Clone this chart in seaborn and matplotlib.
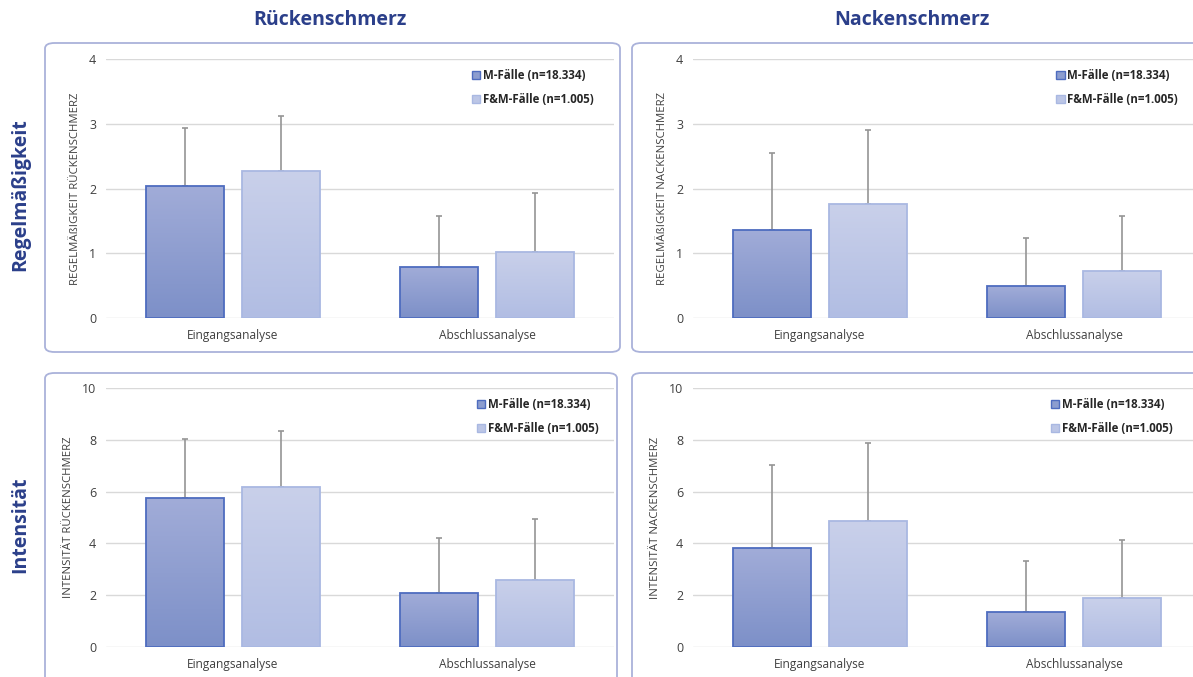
import numpy as np
import pandas as pd
import matplotlib
matplotlib.use('Agg')
import matplotlib.pyplot as plt
from matplotlib.patches import FancyBboxPatch, Patch
from matplotlib.colors import LinearSegmentedColormap
import seaborn as sns

# data
phases = ["Eingangsanalyse", "Abschlussanalyse"]
groups = ["M-Fälle (n=18.334)", "F&M-Fälle (n=1.005)"]
col_titles = ["Rückenschmerz", "Nackenschmerz"]
row_titles = ["Regelmäßigkeit", "Intensität"]
ylabels = ["REGELMÄßIGKEIT RÜCKENSCHMERZ", "REGELMÄßIGKEIT NACKENSCHMERZ",
           "INTENSITÄT RÜCKENSCHMERZ", "INTENSITÄT NACKENSCHMERZ"]

# means per panel: [M Eingang, M Abschluss], [F&M Eingang, F&M Abschluss]
reg_ruecken_m = [2.04, 0.79]
reg_ruecken_fm = [2.27, 1.02]
reg_nacken_m = [1.36, 0.49]
reg_nacken_fm = [1.76, 0.73]
int_ruecken_m = [5.75, 2.09]
int_ruecken_fm = [6.18, 2.59]
int_nacken_m = [3.82, 1.34]
int_nacken_fm = [4.86, 1.89]

# upper end of error bars
reg_ruecken_m_top = [2.93, 1.58]
reg_ruecken_fm_top = [3.12, 1.93]
reg_nacken_m_top = [2.55, 1.24]
reg_nacken_fm_top = [2.90, 1.58]
int_ruecken_m_top = [8.03, 4.20]
int_ruecken_fm_top = [8.34, 4.94]
int_nacken_m_top = [7.03, 3.32]
int_nacken_fm_top = [7.88, 4.13]

panels = [
    (reg_ruecken_m, reg_ruecken_fm, reg_ruecken_m_top, reg_ruecken_fm_top, 4, 1),
    (reg_nacken_m, reg_nacken_fm, reg_nacken_m_top, reg_nacken_fm_top, 4, 1),
    (int_ruecken_m, int_ruecken_fm, int_ruecken_m_top, int_ruecken_fm_top, 10, 2),
    (int_nacken_m, int_nacken_fm, int_nacken_m_top, int_nacken_fm_top, 10, 2),
]

sns.set_style("white")
plt.rcParams['font.family'] = ['Open Sans', 'DejaVu Sans']

W, H = 1193, 677
fig = plt.figure(figsize=(W / 100, H / 100), dpi=100)

title_color = "#2b3f8a"
text_color = "#404040"
edge_colors = ["#4e6cbf", "#a9b8e2"]
grad_colors = [("#7d90c8", "#a1acd8"), ("#b1bde3", "#c9d0ea")]
face_colors = ["#8c9dcf", "#bcc6e6"]

# panel frames in pixel coords (x0, y0_top, x1, y1_bottom)
frames = [(45, 43, 620, 352), (632, 43, 1205, 352),
          (45, 373, 617, 690), (632, 373, 1205, 690)]
for x0, y0, x1, y1 in frames:
    box = FancyBboxPatch((x0 / W, 1 - y1 / H), (x1 - x0) / W, (y1 - y0) / H,
                         boxstyle="round,pad=0,rounding_size=0.008",
                         transform=fig.transFigure, fill=False,
                         edgecolor="#aab2da", linewidth=1.3)
    fig.patches.append(box)

# axes positions: left pixel, top pixel (value max)
ax_pos = [(106, 59), (693, 59), (106, 388), (693, 388)]
legend_x = [0.70, 0.695, 0.71, 0.685]
ax_w, ax_h = 508, 259

for i, (m_vals, fm_vals, m_top, fm_top, ymax, step) in enumerate(panels):
    lx, ty = ax_pos[i]
    ax = fig.add_axes([lx / W, 1 - (ty + ax_h) / H, ax_w / W, ax_h / H])
    df = pd.DataFrame({
        "phase": phases * 2,
        "group": [groups[0]] * 2 + [groups[1]] * 2,
        "value": m_vals + fm_vals,
    })
    sns.barplot(data=df, x="phase", y="value", hue="group", order=phases,
                hue_order=groups, palette=face_colors, width=0.756, gap=0.19,
                errorbar=None, legend=False, ax=ax, zorder=3)
    tops = [m_top, fm_top]
    bar_conts = list(ax.containers)
    for k, cont in enumerate(bar_conts):
        cmap = LinearSegmentedColormap.from_list("g", grad_colors[k])
        for j, bar in enumerate(cont):
            bar.set_edgecolor(edge_colors[k])
            bar.set_linewidth(1.3)
            bx, bw, bh = bar.get_x(), bar.get_width(), bar.get_height()
            img = ax.imshow(np.linspace(0, 1, 100).reshape(-1, 1), cmap=cmap,
                            origin="lower", aspect="auto",
                            extent=[bx, bx + bw, 0, bh], zorder=3.5)
            img.set_clip_path(bar)
            bar.set_zorder(4)
            bar.set_facecolor("none")
            cx = bx + bw / 2
            ax.errorbar(cx, bh, yerr=[[0], [tops[k][j] - bh]], fmt="none",
                        ecolor="#959595", elinewidth=1.2, capsize=2.5,
                        capthick=1.2, zorder=2)
    ax.set_xlim(-0.5, 1.5)
    ax.set_ylim(0, ymax)
    ax.set_yticks(np.arange(0, ymax + step, step))
    ax.grid(axis="y", color="#d9d9d9", linewidth=1)
    ax.set_axisbelow(True)
    sns.despine(ax=ax, left=True, bottom=True)
    ax.tick_params(axis="y", length=0, labelsize=9, labelcolor=text_color, pad=7)
    ax.tick_params(axis="x", length=0, labelsize=8.6, labelcolor=text_color, pad=8)
    ax.set_xlabel("")
    ax.set_ylabel(ylabels[i], fontsize=8.2, color=text_color, labelpad=6)

    handles = [Patch(facecolor=face_colors[k], edgecolor=edge_colors[k], linewidth=1)
               for k in range(2)]
    ax.legend(handles, groups, loc="upper left", bbox_to_anchor=(legend_x[i], 1.0),
              frameon=False, handlelength=0.7, handleheight=0.7,
              handletextpad=0.25, labelspacing=0.95,
              prop={"size": 8.3, "weight": "bold"})

for c, t in enumerate(col_titles):
    cx = [330, 912][c]
    fig.text(cx / W, 1 - 20 / H, t, ha="center", va="center", fontsize=14,
             fontweight="bold", color=title_color)
for r, t in enumerate(row_titles):
    cy = [195, 525][r]
    fig.text(20 / W, 1 - cy / H, t, ha="center", va="center", fontsize=14,
             fontweight="bold", color=title_color, rotation=90)

fig.savefig("out.png", dpi=100)
